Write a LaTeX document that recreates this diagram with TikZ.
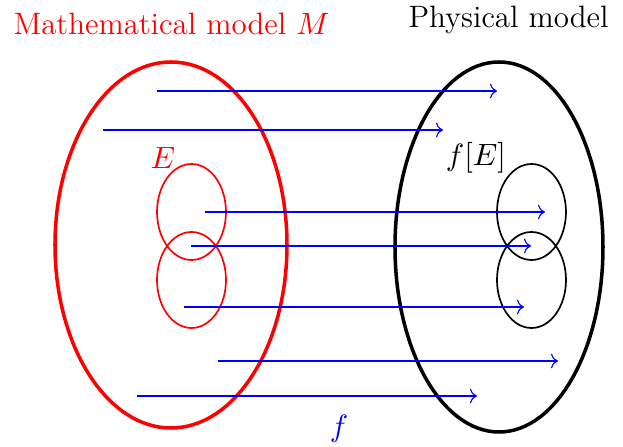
\documentclass[tikz,border=0pt]{standalone}
\usepackage{amsfonts,amssymb,amsmath}
\usepackage{xcolor}
\usepackage{tikz}
\usetikzlibrary{arrows.meta}
\begin{document}
\begin{tikzpicture}[x=0.0125cm,y=-0.0125cm,>=To,font=\fontsize{11}{13}\selectfont]
\useasboundingbox(0,0)rectangle(623,447);
\node[red,anchor=base west,inner sep=0](mm)at(13,35){Mathematical model $M$};
\node[anchor=base west,inner sep=0](pm)at(408,28){Physical model};
%big sets
\draw[red,line width=1.25pt](171,245)ellipse[x radius=116,y radius=183];
\draw[line width=1.25pt](499,247)ellipse[x radius=104,y radius=185];
%E and f[E]
\draw[red,semithick](191.5,212)ellipse[x radius=34.5,y radius=48]
(191.5,280)ellipse[x radius=34.5,y radius=48];
\draw[semithick](531.5,212)ellipse[x radius=34.5,y radius=48]
(531.5,280)ellipse[x radius=34.5,y radius=48];
\node[red](e)at(163,158){$E$};
\node(fe)at(476,158){$f[E]$};
%the map
\foreach \i/\xa/\yy in {1/157/91,2/103/130,3/205/212,4/191/246,5/184/307,6/218/361,7/137/396}{
\coordinate(a\i)at(\xa,\yy);
\coordinate(b\i)at(\xa+340,\yy);
\draw[->,blue](a\i)--(b\i);}
\node[blue](f)at(339,429){$f$};
\end{tikzpicture}
\end{document}
